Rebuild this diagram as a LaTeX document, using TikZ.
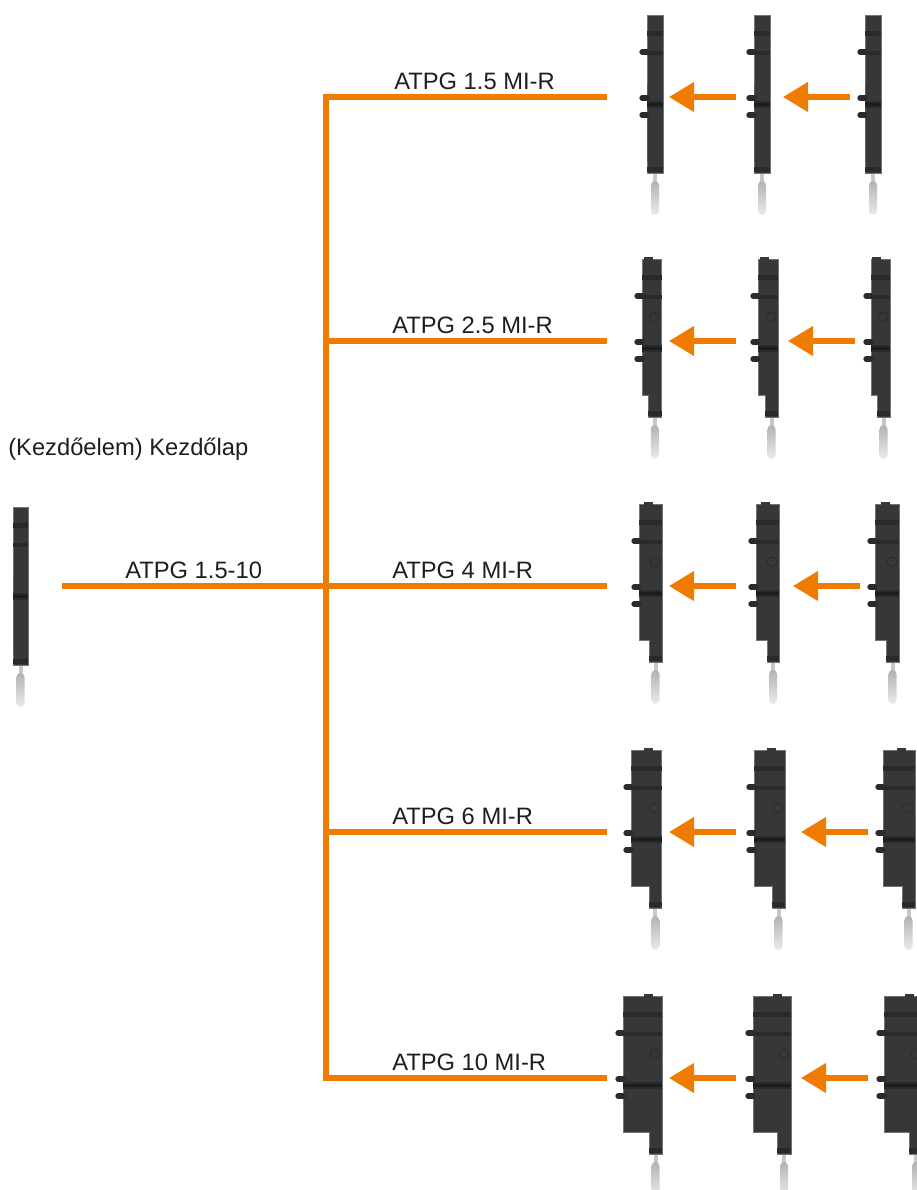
\documentclass[tikz,border=0pt]{standalone}
\usepackage{fontspec}
\setmainfont{Liberation Sans}
\usepackage{tikz}
\usetikzlibrary{arrows.meta,calc}
\definecolor{wirecol}{HTML}{EF7B00}
\definecolor{devcol} {HTML}{373737}
\definecolor{bandcol}{HTML}{2A2A2A}
\definecolor{linecol}{HTML}{1C1C1C}
\definecolor{tabcol} {HTML}{2B2B2B}
\definecolor{inkcol} {HTML}{1E1E1E}
\tikzset{
  % --- nodes
  devbox/.style  = {inner sep=0pt, outer sep=0pt},
  lbl/.style     = {font=\fontsize{17.8pt}{20pt}\selectfont, text=inkcol, inner sep=0pt, anchor=base west},
  % --- edges
  wire/.style    = {draw=wirecol, line width=3.9pt},
  arr/.style     = {wire, -{Triangle[length=18.75pt,width=21.5pt]}},
  % --- device parts
  devbody/.style = {fill=devcol, draw=devcol!70!white, line width=.5pt},
  devband/.style = {fill=bandcol},
  devline/.style = {fill=linecol},
  devtab/.style  = {draw=tabcol, line width=4pt, line cap=round},
  devneck/.style = {fill=black!22},
  devpin/.style  = {rounded corners=3pt, top color=black!30, middle color=black!65, bottom color=black!8},
}
% name, left, right, tail left, row y
\newcommand{\device}[5]{
  \node[devbox, minimum width={(#3-#2)*.75pt}, minimum height={158*.75pt}] (#1) at ({(#2+#3)/2},#5-3) {};
  \fill[devbody] (#2,#5-82) -- (#3,#5-82) -- (#3,#5+76) -- (#4,#5+76) -- (#4,#5+54)
     -- (#2,#5+54) -- cycle;
  \fill[devband] (#2,#5-66) rectangle (#3,#5-61);
  \fill[devband] (#2,#5-46) rectangle (#3,#5-42);
  \fill[devband] (#2,#5+4) rectangle (#3,#5+11);
  \fill[devline] (#2,#5+6) rectangle (#3,#5+9);
  \fill[devband] (#4,#5+70) rectangle (#3,#5+75);
  \fill[devneck] ({(#4+#3)/2-2},#5+77) rectangle ({(#4+#3)/2+2},#5+85);
  \shade[devpin] ({(#4+#3)/2-4},#5+84) rectangle ({(#4+#3)/2+4},#5+118);
}
% left, right, row y
\newcommand{\devtabs}[3]{
  \foreach \dy in {-45,1,18}
    \draw[devtab] (#1-5,#3+\dy) -- (#1,#3+\dy);
}
% right, row y
\newcommand{\devmark}[2]{
  \fill[devcol] (#1-18,#2-81) rectangle (#1-9,#2-84);
  \draw[bandcol, line width=.6pt] (#1-7,#2-24) circle (5);
}

\begin{document}
\begin{tikzpicture}[x=.75pt,y=-.75pt]
  \path[use as bounding box] (0,0) rectangle (917,1190);
  \clip (0,0) rectangle (917,1190);

  \device{src}{13}{28}{13}{589}

  \foreach \nm/\l/\r/\t/\y in {
      d11/647/663/647/97, d12/754/770/754/97, d13/865/881/865/97,
      d21/642/661.5/648/341, d22/758/778/765/341, d23/871/890/877/341,
      d31/639/662/649/586, d32/756/779/767/586, d33/875/899/886/586,
      d41/631/661.5/649/832, d42/754/785/772/832, d43/883/915/902/832,
      d51/623/662/649/1078, d52/753/791/777/1078, d53/884/923/909/1078}{
    \device{\nm}{\l}{\r}{\t}{\y}
    \devtabs{\l}{\r}{\y}
  }
  \foreach \r/\y in {661.5/341,778/341,890/341,662/586,779/586,899/586,
                     661.5/832,785/832,915/832,662/1078,791/1078,923/1078}
    \devmark{\r}{\y};

  \coordinate (j1) at (326,97);
  \coordinate (j2) at (326,341);
  \coordinate (j3) at (326,586);
  \coordinate (j4) at (326,832);
  \coordinate (j5) at (326,1078);

  \draw[wire, line cap=rect] (j1) -- (j5);
  \draw[wire, shorten <=25.5pt] (src.east |- j3) -- (j3);
  \draw[wire, shorten >=30pt] (j1) -- (d11.west |- j1);
  \draw[wire, shorten >=26.25pt] (j2) -- (d21.west |- j2);
  \draw[wire, shorten >=24pt] (j3) -- (d31.west |- j3);
  \draw[wire, shorten >=18pt] (j4) -- (d41.west |- j4);
  \draw[wire, shorten >=12pt] (j5) -- (d51.west |- j5);

  \foreach \a/\b/\j/\sa/\sb in {
      d12/d11/j1/18/6, d13/d12/j1/15/13,
      d22/d21/j2/22/7.5, d23/d22/j2/16/10,
      d32/d31/j3/20/7, d33/d32/j3/15/14,
      d42/d41/j4/18/7.5, d43/d42/j4/15/16,
      d52/d51/j5/17/7, d53/d52/j5/16/10}
    \draw[arr, shorten <={\sa*.75pt}, shorten >={\sb*.75pt}] (\a.west |- \j) -- (\b.east |- \j);

  \node[lbl] (head) at (8,455) {(Kezdőelem) Kezdőlap};
  \node[lbl] (main) at (125,578) {ATPG 1.5-10};
  \node[lbl] (l1) at (394,89) {ATPG 1.5 MI-R};
  \node[lbl] (l2) at (392,333) {ATPG 2.5 MI-R};
  \node[lbl] (l3) at (392,578) {ATPG 4 MI-R};
  \node[lbl] (l4) at (392,824) {ATPG 6 MI-R};
  \node[lbl] (l5) at (392,1070) {ATPG 10 MI-R};
\end{tikzpicture}
\end{document}
